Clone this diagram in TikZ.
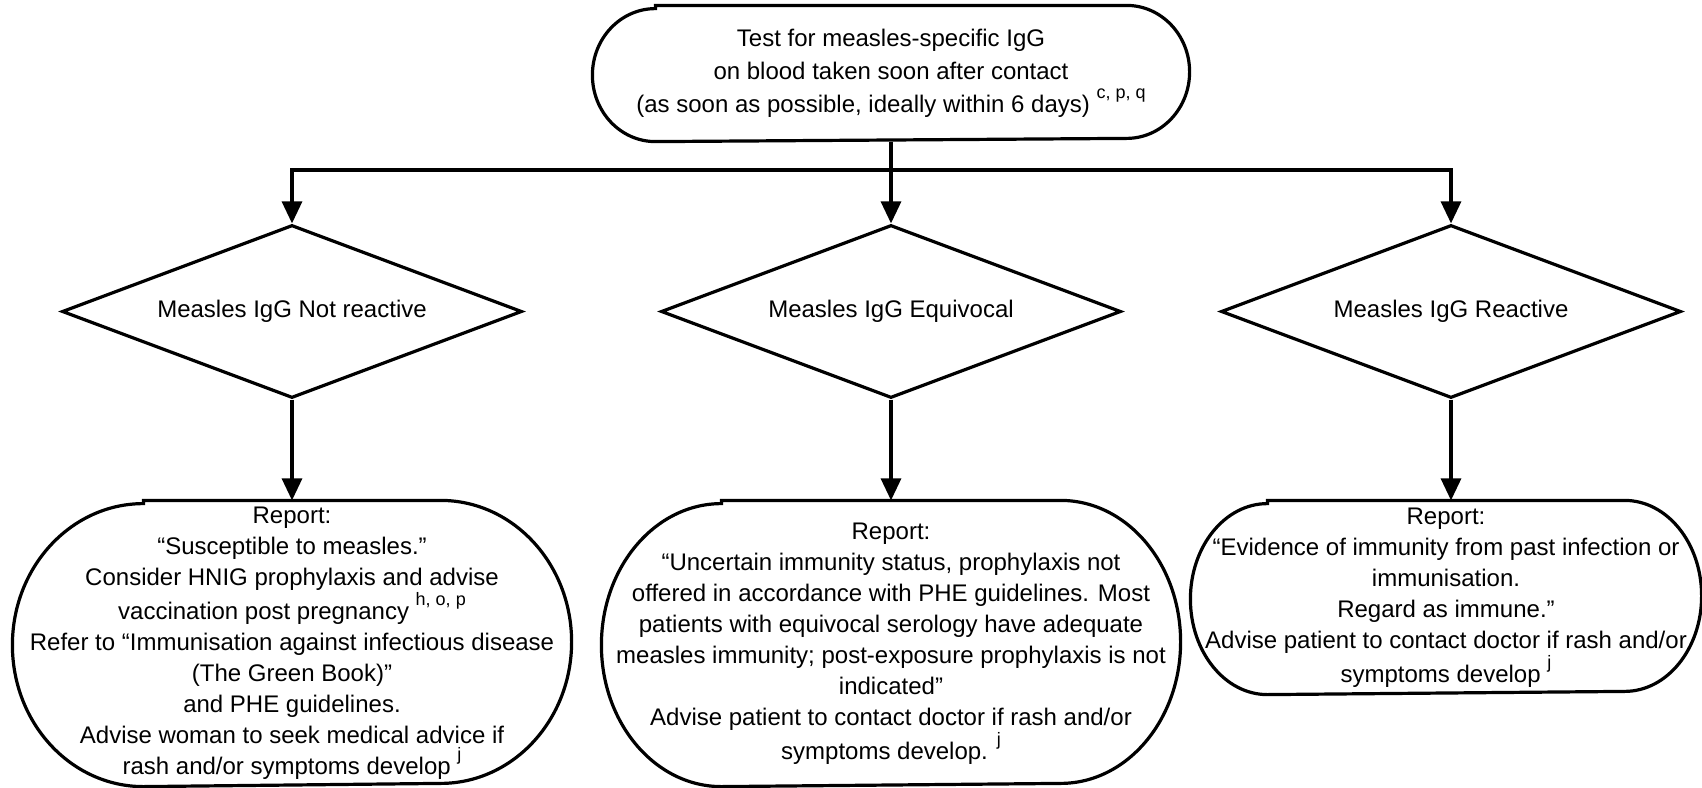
\documentclass[tikz,border=0pt]{standalone}
\usepackage{fontspec}
\setmainfont{Liberation Sans}
\usetikzlibrary{shapes.geometric,arrows.meta}
\newcommand{\refnote}[1]{\raisebox{0.6em}{\fontsize{9}{9}\selectfont #1}}

\begin{document}
\begin{tikzpicture}[x=0.5pt, y=-0.5pt, line width=1.6pt,
    every node/.style={font=\fontsize{12}{15.5}\selectfont},
    textbox/.style={align=center, inner sep=0pt},
    decision/.style={diamond, draw, aspect=2.65, inner sep=0pt,
      minimum width=230pt, minimum height=86.5pt},
    arr/.style={-{Triangle[length=11pt,width=10pt]}}]
  \useasboundingbox (0,0) rectangle (1702,787);

  % start
  \node[textbox, font=\fontsize{12}{16.5}\selectfont, minimum width=297pt, minimum height=66.5pt] (test) at (891,73.5)
    {Test for measles-specific IgG\\ on blood taken soon after contact\\
     (as soon as possible, ideally within 6 days) \refnote{c, p, q}};

  % results
  \node[decision] (neg) at (292,311.5) {Measles IgG Not reactive};
  \node[decision] (equ) at (891,311.5) {Measles IgG Equivocal};
  \node[decision] (pos) at (1451,311.5) {Measles IgG Reactive};

  % reports
  \node[textbox, minimum width=278pt, minimum height=141.5pt] (rneg) at (292,643.5)
    {Report:\\ “Susceptible to measles.”\\ Consider HNIG prophylaxis and advise\\
     vaccination post pregnancy \refnote{h, o, p}\\
     Refer to “Immunisation against infectious disease\\ (The Green Book)”\\
     and PHE guidelines.\\ Advise woman to seek medical advice if\\
     rash and/or symptoms develop \refnote{j}};
  \node[textbox, minimum width=288pt, minimum height=141.5pt] (requ) at (891,643.5)
    {Report:\\ “Uncertain immunity status, prophylaxis not\\
     offered in accordance with PHE guidelines. Most\\
     patients with equivocal serology have adequate\\
     measles immunity; post-exposure prophylaxis is not\\ indicated”\\
     Advise patient to contact doctor if rash and/or\\ symptoms develop. \refnote{j}};
  \node[textbox, minimum width=254pt, minimum height=95.5pt] (rpos) at (1446,597.5)
    {Report:\\ “Evidence of immunity from past infection or\\ immunisation.\\
     Regard as immune.”\\ Advise patient to contact doctor if rash and/or\\
     symptoms develop \refnote{j}};

  % outlines with round ends
  \foreach \nd/\bl/\hh in {test/31.5pt/33.25pt, rneg/65.5pt/70.75pt,
                           requ/60pt/70.75pt, rpos/38.5pt/47.75pt}
    \draw ([xshift=\bl]\nd.north west) -- ([xshift=-\bl]\nd.north east)
      arc[start angle=90, end angle=-90, x radius=\bl, y radius=\hh]
      -- ([xshift=\bl]\nd.south west)
      arc[start angle=270, end angle=90, x radius=\bl, y radius=\hh] -- cycle;

  \coordinate (bus) at (891,170);
  \draw[arr] (test.south) -- (equ.north);
  \draw[arr] (bus) -| (neg.north);
  \draw[arr] (bus) -| (pos.north);
  \draw[arr] (neg.south) -- (rneg.north);
  \draw[arr] (equ.south) -- (requ.north);
  \draw[arr] (pos.south) -- (pos.south |- rpos.north);
\end{tikzpicture}
\end{document}
